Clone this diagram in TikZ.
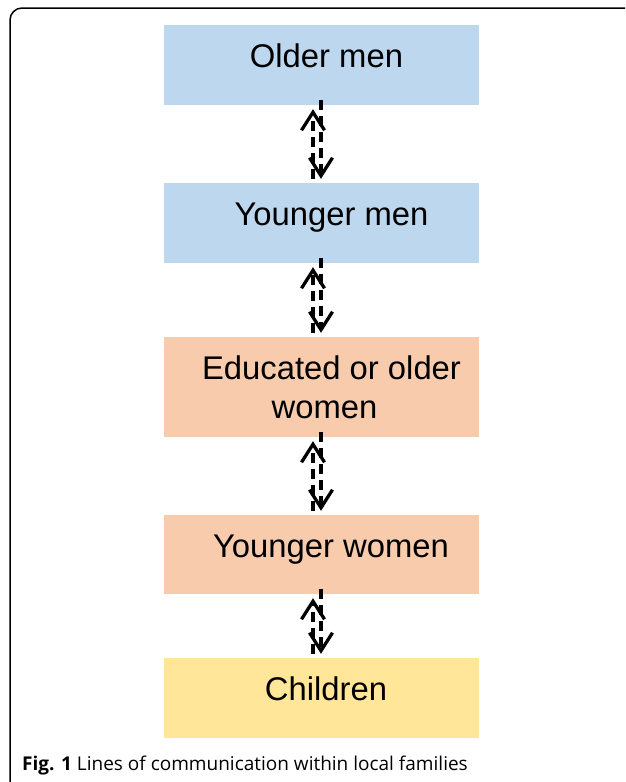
\documentclass[tikz,border=0pt]{standalone}
\usepackage{fontspec}
\setmainfont{Liberation Sans}
\newfontfamily\capfont{Open Sans}
\usetikzlibrary{arrows.meta}
\definecolor{menblue}{HTML}{BDD7EE}
\definecolor{womenorange}{HTML}{F8CBAD}
\definecolor{kidyellow}{HTML}{FFE699}
\tikzset{
  grp/.style={minimum width=315pt, minimum height=80pt, inner sep=0pt,
    font=\fontsize{32.8}{39}\selectfont, text height=25pt, text depth=20pt},
  comm/.style={line width=3.3pt, dash pattern=on 10pt off 6pt,
    -{Straight Barb[length=18pt,width=23pt]}},
}
\begin{document}
\begin{tikzpicture}[x=1pt,y=-1pt]
\useasboundingbox (0,0) rectangle (625,782);
\clip (0,0) rectangle (625,782);
\draw[line width=1.5pt, rounded corners=12pt] (10,8) rectangle (660,820);
\node[grp, fill=menblue] (grp1) at (321.5,65){\hspace*{10pt}Older men};
\node[grp, fill=menblue] (grp2) at (321.5,223){\hspace*{20pt}Younger men};
\node[grp, fill=womenorange, minimum height=100pt, text height=, text depth=, align=center] (grp3) at (321.5,387){\hspace*{20pt}Educated or older\\\hspace*{6pt}women};
\node[grp, fill=womenorange, minimum height=79pt] (grp4) at (321.5,554.5){\hspace*{19pt}Younger women};
\node[grp, fill=kidyellow] (grp5) at (321.5,698){\hspace*{9pt}Children};
\foreach \a/\b in {grp1/grp2, grp2/grp3, grp3/grp4, grp4/grp5}{
  \draw[comm] ([xshift=-8.5pt,yshift=4pt]\b.north) -- ([xshift=-8.5pt,yshift=-4pt]\a.south);
  \draw[comm] ([xshift=-0.5pt,yshift=5pt]\a.south) -- ([xshift=-0.5pt,yshift=4pt]\b.north);
}
\node[anchor=base west, inner sep=0pt, font=\capfont\fontsize{19}{22}\selectfont] (cap) at (22,770){\textbf{Fig. 1} Lines of communication within local families};
\end{tikzpicture}
\end{document}
